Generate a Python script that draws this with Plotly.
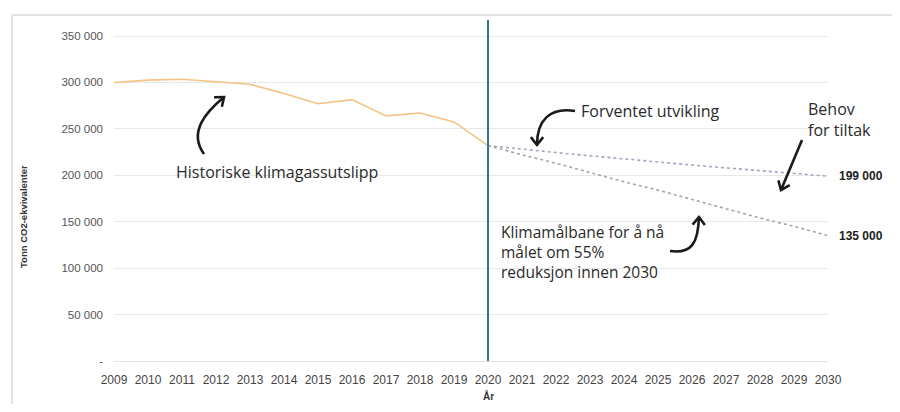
import math
import plotly.graph_objects as go

# data
hist_years = list(range(2009, 2021))
hist_values = [300000, 302500, 303500, 301000, 298000, 288000, 277000, 281500, 264000, 267000, 257500, 232000]

proj_years = list(range(2020, 2031))
expected_values = [232000, 228000, 224500, 221000, 217500, 214000, 211000, 208000, 205000, 202000, 199000]
target_values = [232000, 222000, 213000, 203000, 193000, 184000, 174000, 164000, 154000, 145000, 135000]

x_ticks = list(range(2009, 2031))
y_ticks = [0, 50000, 100000, 150000, 200000, 250000, 300000, 350000]
y_ticktext = ['-', '50 000', '100 000', '150 000', '200 000', '250 000', '300 000', '350 000']

# page has an 8px body margin, so the figure is drawn a bit smaller
OFF = 8
W, H = 900 - 2 * OFF, 412 - 2 * OFF
# plot area in page pixels
PX0, PX1, PY0, PY1 = 114, 828, 20, 361
L, R, T, B = PX0 - OFF, W - (PX1 - OFF), PY0 - OFF, H - (PY1 - OFF)
PW, PH = W - L - R, H - T - B

FONT = "Open Sans"
TICK_FONT = "Liberation Sans"
INK = '#2a2a2a'


def P(x, y):
    # page pixel -> paper coords (decorations only)
    return (x - OFF - L) / PW, (H - B - (y - OFF)) / PH


def arrow_path(pts, head_from):
    ax, ay = P(*pts[0])
    d = f"M {ax:.4f},{ay:.4f} "
    if len(pts) == 2:
        bx, by = P(*pts[1])
        d += f"L {bx:.4f},{by:.4f}"
    else:
        d += "C " + " ".join(f"{a:.4f},{b:.4f}" for a, b in (P(*p) for p in pts[1:]))
    ex, ey = pts[-1]
    hx, hy = head_from
    ang = math.atan2(ey - hy, ex - hx)
    heads = []
    for s in (1, -1):
        a = ang + math.pi - s * math.radians(38)
        heads.append(P(ex + 10 * math.cos(a), ey + 10 * math.sin(a)))
    e = P(ex, ey)
    d2 = f"M {heads[0][0]:.4f},{heads[0][1]:.4f} L {e[0]:.4f},{e[1]:.4f} L {heads[1][0]:.4f},{heads[1][1]:.4f}"
    return [dict(type='path', xref='paper', yref='paper', path=d, line=dict(color='#1a1a1a', width=2.6)),
            dict(type='path', xref='paper', yref='paper', path=d2, line=dict(color='#1a1a1a', width=2.6))]


fig = go.Figure()
fig.add_trace(go.Scatter(x=hist_years, y=hist_values, mode='lines', line=dict(color='#f6c283', width=1.6), showlegend=False))
fig.add_trace(go.Scatter(x=proj_years, y=expected_values, mode='lines', line=dict(color='#a3a6bd', width=1.6, dash='dot'), showlegend=False))
fig.add_trace(go.Scatter(x=proj_years, y=target_values, mode='lines', line=dict(color='#a5a5a5', width=1.6, dash='dot'), showlegend=False))

bx0, by0 = P(12, 15)
bx1, by1 = P(900, 412)
shapes = [
    dict(type='line', xref='x', yref='paper', x0=2020, x1=2020, y0=0, y1=1, line=dict(color='#2d7b84', width=2)),
    # light frame round the chart (only top and left edges are in view)
    dict(type='line', xref='paper', yref='paper', x0=bx0, y0=by0, x1=bx1, y1=by0, line=dict(color='#e2e2e2', width=2), layer='below'),
    dict(type='line', xref='paper', yref='paper', x0=bx0, y0=by0, x1=bx0, y1=by1, line=dict(color='#e2e2e2', width=2), layer='below'),
]
shapes += arrow_path([(204, 154), (188, 132), (206, 112), (224, 97)], (206, 112))
shapes += arrow_path([(575, 111), (550, 107), (537, 120), (537, 145)], (537, 120))
shapes += arrow_path([(802, 140), (781, 190)], (802, 140))
shapes += arrow_path([(670, 251), (692, 254), (698, 243), (699, 217)], (698, 243))

annotations = []


def text(x, y, s, anchor='left', size=16, family=FONT, angle=0, color=INK):
    ax, ay = P(x, y)
    annotations.append(dict(xref='paper', yref='paper', x=ax, y=ay, text=s, showarrow=False, xanchor=anchor, yanchor='middle',
                            align='left', textangle=angle, font=dict(family=family, size=size, color=color)))


text(174, 172, "Historiske klimagassutslipp")
text(579, 111, "Forventet utvikling")
text(806, 120, "Behov<br>for tiltak")
text(499, 252, "Klimamålbane for å nå<br>målet om 55%<br>reduksjon innen 2030", size=15.5)
text(24, 217, "<b>Tonn CO2-ekvivalenter</b>", anchor='center', size=9.5, family=TICK_FONT, angle=-90, color='#333333')
text(488, 396, "<b>År</b>", anchor='center', size=10, family=TICK_FONT, color='#333333')

for yrs, vals in ((proj_years, expected_values), (proj_years, target_values)):
    annotations.append(dict(x=yrs[-1], y=vals[-1], xref='x', yref='y', text=f"<b>{vals[-1]:,}</b>".replace(',', ' '), showarrow=False,
                            xanchor='left', xshift=9, font=dict(family=TICK_FONT, size=12, color='#222222')))

fig.update_layout(
    width=W, height=H,
    margin=dict(l=L, r=R, t=T, b=B),
    paper_bgcolor='white', plot_bgcolor='white',
    shapes=shapes, annotations=annotations,
    showlegend=False,
)
fig.update_xaxes(range=[2009, 2030], tickvals=x_ticks, ticktext=[str(v) for v in x_ticks], showgrid=False, zeroline=False,
                 showline=True, linecolor='#e2e2e2', linewidth=1, automargin=False,
                 tickfont=dict(family=TICK_FONT, size=12, color='#444444'), ticks='', ticklabelstandoff=8)
fig.update_yaxes(range=[0, 367230], tickvals=y_ticks, ticktext=y_ticktext, showgrid=True, gridcolor='#e8e8e8', gridwidth=1,
                 zeroline=False, showline=False, automargin=False,
                 tickfont=dict(family=TICK_FONT, size=11.5, color='#555555'), ticks='', ticklabelstandoff=10)

fig.write_html("out.html")
